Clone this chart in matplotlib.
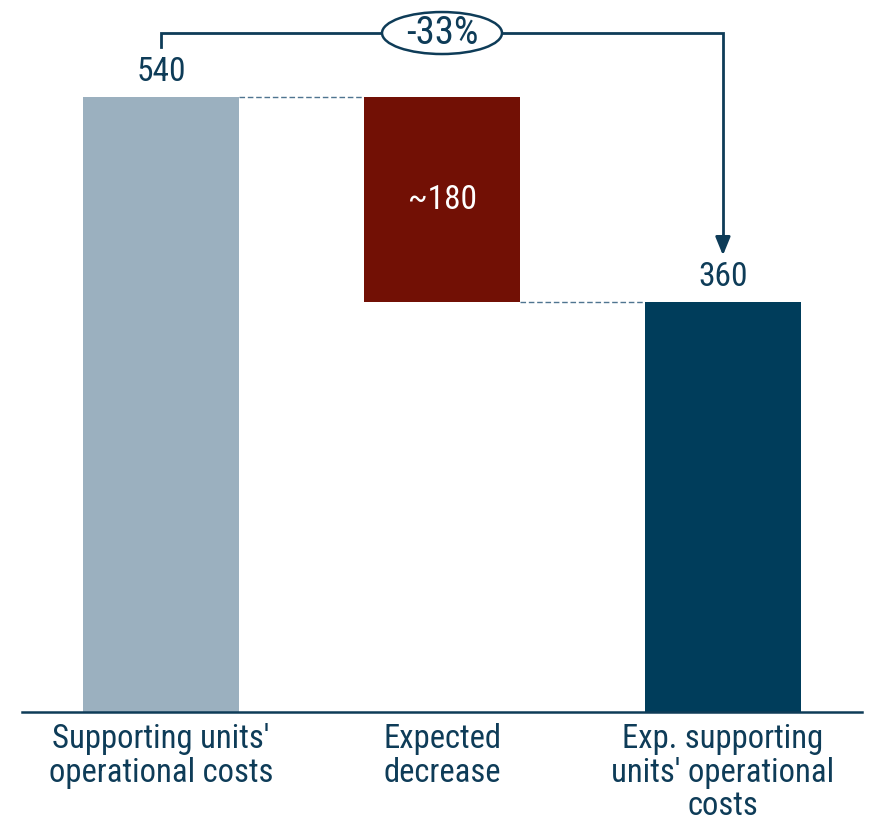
import matplotlib
matplotlib.use("Agg")
import matplotlib.pyplot as plt
from matplotlib.patches import Ellipse
from matplotlib import font_manager

categories = ["Supporting units'\noperational costs", "Expected\ndecrease", "Exp. supporting\nunits' operational\ncosts"]
start_value = 540
decrease_value = 180
end_value = 360
value_labels = ["540", "~180", "360"]
change_label = "-33%"

colors = ["#9BB0BF", "#721005", "#003D5B"]
text_color = "#0E3C58"

names = {f.name for f in font_manager.fontManager.ttflist}
fam = "DejaVu Sans"
for cand in ["Roboto Condensed", "Liberation Sans Narrow", "Open Sans Condensed", "Roboto"]:
    if cand in names:
        fam = cand
        break
plt.rcParams['font.family'] = [fam, 'DejaVu Sans']

fig = plt.figure(figsize=(8.69, 8.21), dpi=100)
ax = fig.add_axes([22/869, 109/821, 840/869, 712/821])
ax.set_xlim(-0.495, 2.495)
ax.set_ylim(0, 625.2)
for s in ["top", "right", "left"]:
    ax.spines[s].set_visible(False)
ax.spines["bottom"].set_color(text_color)
ax.spines["bottom"].set_linewidth(1.8)
ax.set_yticks([])
ax.tick_params(axis='x', length=0, pad=8)
ax.set_xticks(range(3))
ax.set_xticklabels(categories, fontsize=23.5, color=text_color, linespacing=1.06)

w = 0.555
bottoms = [0, end_value, 0]
heights = [start_value, decrease_value, end_value]
ax.bar(range(3), heights, bottom=bottoms, width=w, color=colors, zorder=2)

# connectors
ax.plot([0 + w/2, 1 - w/2], [start_value, start_value], ls=(0, (4, 2)), color="#4F7590", lw=1, zorder=1)
ax.plot([1 + w/2, 2 - w/2], [end_value, end_value], ls=(0, (4, 2)), color="#4F7590", lw=1, zorder=1)

# value labels
ax.text(0, start_value + 8, value_labels[0], ha="center", va="bottom", fontsize=24, color=text_color)
ax.text(1, end_value + decrease_value/2, value_labels[1], ha="center", va="center", fontsize=24, color="white")
ax.text(2, end_value + 8, value_labels[2], ha="center", va="bottom", fontsize=24, color=text_color)

# bracket
ytop = 596.2
ax.plot([0, 0, 2, 2], [584, ytop, ytop, 415], color=text_color, lw=2, solid_joinstyle="miter", zorder=3, clip_on=False)
ax.annotate("", xy=(2, 401), xytext=(2, 418),
            arrowprops=dict(arrowstyle="-|>,head_length=1.1,head_width=0.45", color=text_color, lw=2, shrinkA=0, shrinkB=0))
ell = Ellipse((1.0, ytop), width=120/281, height=42/1.1389, facecolor="white", edgecolor=text_color, lw=1.8, zorder=4, clip_on=False)
ax.add_patch(ell)
ax.text(1.0, ytop, change_label, ha="center", va="center", fontsize=28, color=text_color, zorder=5)

fig.savefig("out.png", dpi=100)
